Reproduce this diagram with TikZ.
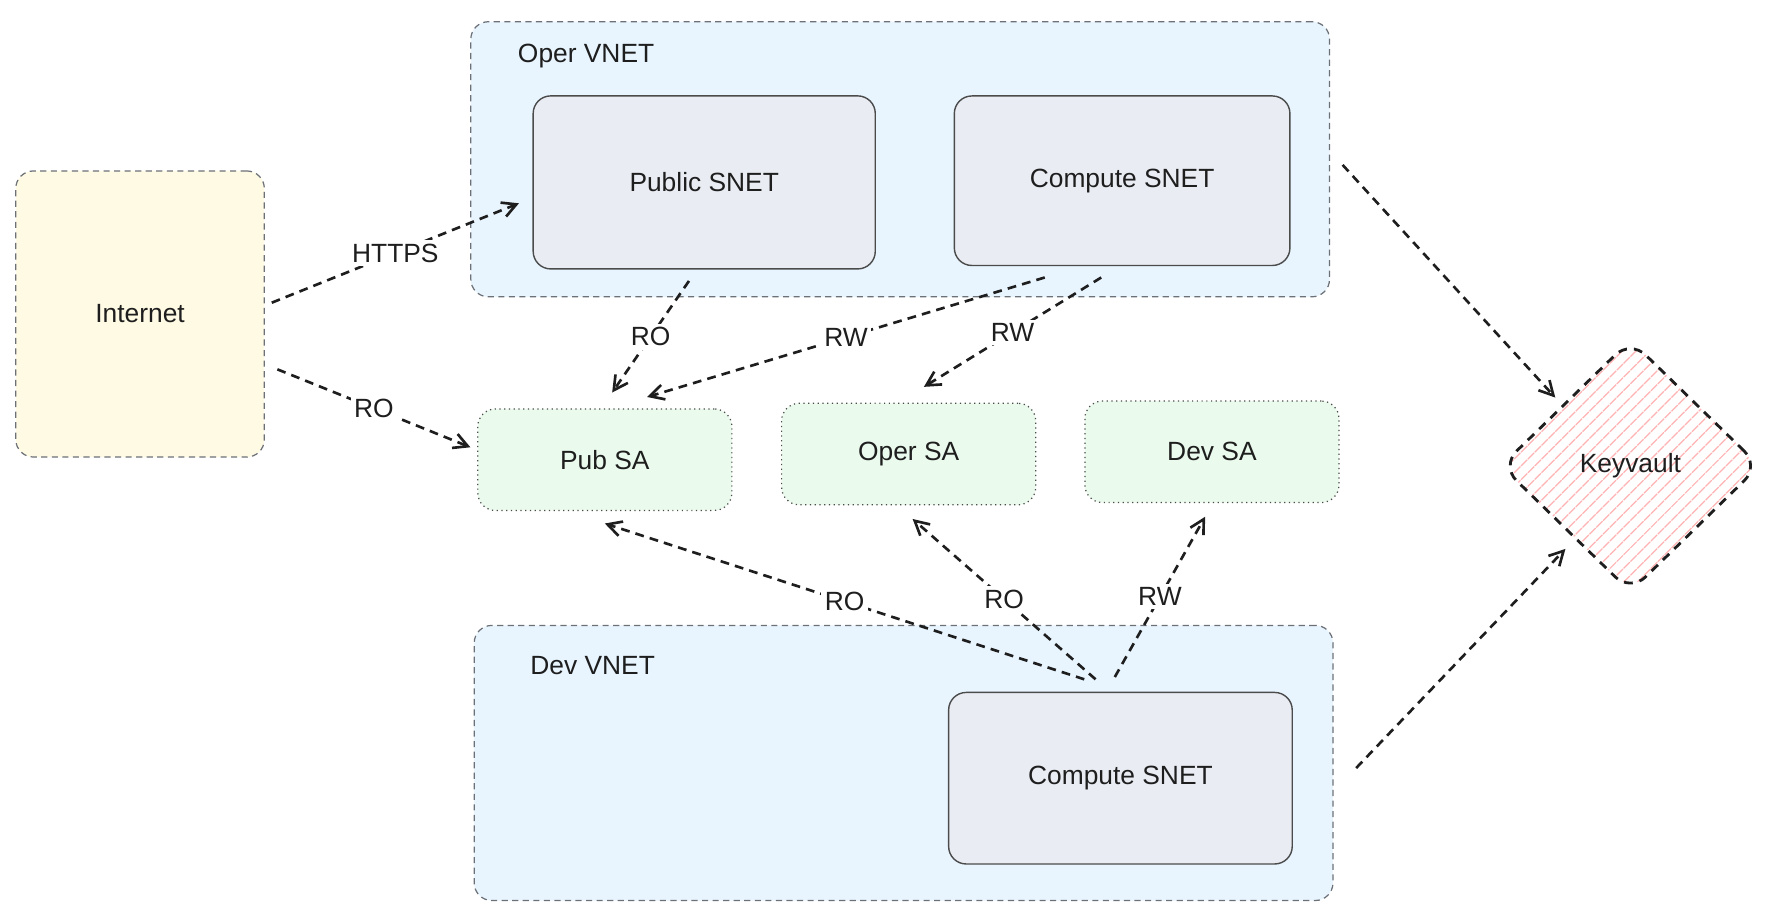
\documentclass[tikz,border=0pt]{standalone}
\usepackage{fontspec}
\setmainfont{Liberation Sans}
\usetikzlibrary{arrows.meta,shapes.geometric,patterns.meta}

\definecolor{inetfill}{HTML}{FFFAE3}
\definecolor{vnetfill}{HTML}{E8F5FF}
\definecolor{snetfill}{HTML}{E9EDF3}
\definecolor{safill}{HTML}{EAFAEC}
\definecolor{kvline}{HTML}{FFB3B3}
\definecolor{ink}{HTML}{1E1E1E}
\definecolor{rim}{HTML}{6C7178}

\begin{document}
\begin{tikzpicture}[
    x=0.02259cm, y=-0.02259cm,
    font=\fontsize{15}{18}\selectfont,
    text=ink,
    inet/.style={draw=rim, dash pattern=on 3.5pt off 2.5pt, line width=0.7pt, rounded corners=10pt, fill=inetfill, minimum width=4.97cm, minimum height=5.72cm},
    vnet/.style={draw=rim, dash pattern=on 3.5pt off 2.5pt, line width=0.7pt, rounded corners=10pt, fill=vnetfill, minimum width=17.17cm, minimum height=5.5cm},
    snet/.style={draw=ink!80, line width=0.8pt, rounded corners=10pt, fill=snetfill, minimum width=6.8cm, minimum height=3.43cm},
    sa/.style={draw=ink!80, dotted, line width=0.7pt, rounded corners=10pt, fill=safill, minimum width=5.08cm, minimum height=2.03cm},
    kv/.style={diamond, draw=ink, line width=1.6pt, dash pattern=on 5pt off 4pt, rounded corners=12pt, pattern={Lines[angle=45, distance=5.5pt, line width=0.7pt]}, pattern color=kvline, minimum width=5.17cm, minimum height=5.04cm, inner sep=0pt},
    title/.style={anchor=west, inner sep=0pt},
    lbl/.style={fill=white, inner sep=2pt},
    arrow/.style={-{Straight Barb[length=2.8mm, width=3mm]}, draw=ink, line width=1.5pt, dash pattern=on 5pt off 3.5pt}
  ]
    \useasboundingbox (0,0) rectangle (1568,815);

    \node[inet] (inet) at (124,278) {Internet};

    \node[vnet] (opvnet) at (797,141) {};
    \node[title] (optitle) at ([shift={(42,31)}]opvnet.north west) {Oper VNET};
    \node[snet, minimum width=6.84cm, minimum height=3.46cm] (psnet) at (623.5,161.5) {Public SNET};
    \node[snet, minimum width=6.71cm, minimum height=3.39cm] (csnet) at (993.5,160) {Compute SNET};

    \node[sa] (pubsa) at (535.5,407) {Pub SA};
    \node[sa] (opsa) at (804.5,402) {Oper SA};
    \node[sa] (dvsa) at (1073,400) {Dev SA};

    \node[kv] (kv) at (1443.5,412.5) {Keyvault};

    \node[vnet] (dvnet) at (800,675.5) {};
    \node[title] (dvtitle) at ([shift={(50,36)}]dvnet.north west) {Dev VNET};
    \node[snet, minimum width=6.87cm] (dcsnet) at (992,689) {Compute SNET};

    \draw[arrow] ([shift={(6,-10)}]inet.east) -- node[lbl] {HTTPS} ([shift={(-12,18.5)}]psnet.west);
    \draw[arrow] ([shift={(11,49)}]inet.east) -- node[lbl] {RO} ([shift={(-6,-11)}]pubsa.west);
    \draw[arrow] ([shift={(-13.5,10)}]psnet.south) -- node[lbl] {RO} ([shift={(6.5,-14)}]pubsa.north);
    \draw[arrow] ([shift={(-68.5,10)}]csnet.south) -- node[lbl] {RW} ([shift={(37.5,-10)}]pubsa.north);
    \draw[arrow] ([shift={(-18.5,10)}]csnet.south) -- node[lbl] {RW} ([shift={(13.5,-14)}]opsa.north);
    \draw[arrow] ([shift={(11,5)}]opvnet.east) -- ([shift={(-66.5,-60.5)}]kv.center);
    \draw[arrow] ([shift={(20,4.5)}]dvnet.east) -- ([shift={(-57.5,73.5)}]kv.center);
    \draw[arrow] ([shift={(-32,-11)}]dcsnet.north) -- node[lbl] {RO} ([shift={(0,11)}]pubsa.south);
    \draw[arrow] ([shift={(-22,-11)}]dcsnet.north) -- node[lbl] {RO} ([shift={(3.5,12)}]opsa.south);
    \draw[arrow] ([shift={(-5,-13)}]dcsnet.north) -- node[lbl] {RW} ([shift={(-6,12)}]dvsa.south);
\end{tikzpicture}
\end{document}
